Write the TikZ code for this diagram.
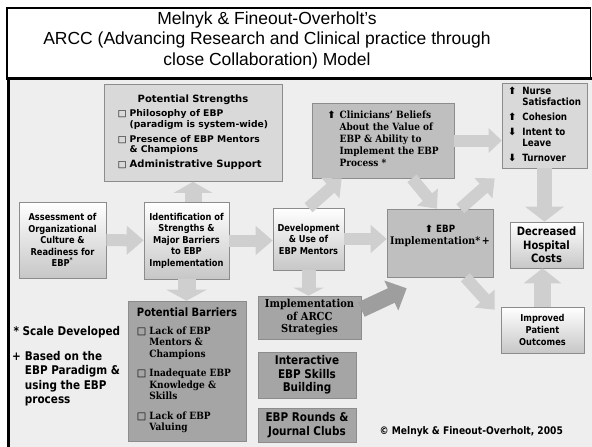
\documentclass[tikz,border=0pt]{standalone}
\usepackage{fontspec}
\usetikzlibrary{arrows.meta,calc}
\setmainfont{Liberation Sans}
\newfontfamily\tahoma{DejaVu Sans}[FakeStretch=0.87]
\newfontfamily\verdana{DejaVu Sans}
\newfontfamily\georgia{DejaVu Serif}[FakeStretch=0.9]
\newfontfamily\signs{DejaVu Sans}
\definecolor{panel}{HTML}{EEEEEE}
\definecolor{lightbox}{HTML}{D9D9D9}
\definecolor{midbox}{HTML}{BFBFBF}
\definecolor{darkbox}{HTML}{A5A5A5}
\definecolor{arrowfill}{HTML}{CFCFCF}
\definecolor{arrowdark}{HTML}{9E9E9E}
\definecolor{edge}{HTML}{8C8C8C}
\newcommand{\upmark}{{\signs\bfseries ⬆}}
\newcommand{\downmark}{{\signs\bfseries ⬇}}
\newcommand{\tickbox}{{\signs\mdseries □}}

\begin{document}
\begin{tikzpicture}[x=1pt, y=-1pt,
    box/.style={draw=edge, line width=0.6pt, align=center, inner sep=2pt},
    shaded/.style={box, top color=white, bottom color=black!22},
    fat/.style n args={3}{draw=arrowfill, line width=#1, -{Triangle[width=#2,length=#3]}},
    every node/.style={font=\tahoma\bfseries\fontsize{9.5}{11.5}\selectfont}]
    \useasboundingbox (0,0) rectangle (592,447);
    % frame and title
    \fill[panel] (8,78) rectangle (592,447);
    \draw[line width=1.2pt] (7,8) rectangle (590.5,78);
    \draw[line width=3pt] (6,78) -- (592,78);
    \draw[line width=2.5pt] (8.5,78) -- (8.5,447);
    \node[font=\rmfamily\fontsize{17.5}{20.5}\selectfont, align=center] (title) at (267,40)
        {Melnyk \& Fineout-Overholt’s\\ARCC (Advancing Research and Clinical practice through\\close Collaboration) Model};

    % boxes
    \node[box, fill=lightbox, minimum width=178pt, minimum height=97pt,
          font=\verdana\bfseries\fontsize{9.2}{10.8}\selectfont] (strengths) at (193,133)
        {\begin{tabular}{@{}l@{\hspace{3pt}}l@{}}
         \multicolumn{2}{@{}c@{}}{\fontsize{10}{12}\selectfont Potential Strengths}\\[3pt]
         \tickbox & Philosophy of EBP\\
                  & (paradigm is system-wide)\\[4pt]
         \tickbox & Presence of EBP Mentors\\
                  & \& Champions\\[4pt]
         \tickbox & \fontsize{10}{12}\selectfont Administrative Support
         \end{tabular}};
    \node[shaded, minimum width=87pt, minimum height=76pt] (assess) at (62.5,240)
        {Assessment of\\Organizational\\Culture \&\\Readiness for\\EBP\textsuperscript{*}};
    \node[shaded, minimum width=85pt, minimum height=77pt] (ident) at (186.5,240.5)
        {Identification of\\Strengths \&\\Major Barriers\\to EBP\\Implementation};
    \node[box, fill=darkbox, minimum width=118pt, minimum height=140pt,
          font=\georgia\bfseries\fontsize{10}{11.5}\selectfont] (barriers) at (187,371)
        {\begin{tabular}{@{}l@{\hspace{3pt}}l@{}}
         \multicolumn{2}{@{}c@{}}{\tahoma\fontsize{11.5}{13}\selectfont Potential Barriers}\\[6pt]
         \tickbox & Lack of EBP\\
                  & Mentors \&\\
                  & Champions\\[8pt]
         \tickbox & Inadequate EBP\\
                  & Knowledge \&\\
                  & Skills\\[8pt]
         \tickbox & Lack of EBP\\
                  & Valuing
         \end{tabular}};
    \node[shaded, minimum width=71pt, minimum height=62pt] (dev) at (308.5,239)
        {Development\\\& Use of\\EBP Mentors};
    \node[box, fill=midbox, minimum width=142pt, minimum height=75pt,
          font=\georgia\bfseries\fontsize{10}{12}\selectfont] (clin) at (383,140.5)
        {\begin{tabular}{@{}l@{\hspace{4pt}}l@{}}
         \upmark & Clinicians’ Beliefs\\
                 & About the Value of\\
                 & EBP \& Ability to\\
                 & Implement the EBP\\
                 & Process *
         \end{tabular}};
    \node[box, fill=midbox, minimum width=106pt, minimum height=68pt,
          font=\georgia\bfseries\fontsize{10.5}{12}\selectfont] (ebp) at (440,243)
        {{\tahoma\fontsize{10}{12}\selectfont\upmark\ EBP}\\Implementation*\,+\\[4pt]\mbox{}};
    \node[box, fill=lightbox, minimum width=85pt, minimum height=85pt,
          font=\tahoma\bfseries\fontsize{10}{11}\selectfont] (nurse) at (544.5,125.5)
        {\begin{tabular}{@{}l@{\hspace{6pt}}l@{}}
         \upmark & Nurse\\
                 & Satisfaction\\[4pt]
         \upmark & Cohesion\\[4pt]
         \downmark & Intent to\\
                   & Leave\\[4pt]
         \downmark & Turnover
         \end{tabular}};
    \node[shaded, minimum width=73pt, minimum height=46pt,
          font=\tahoma\bfseries\fontsize{11.5}{13.5}\selectfont] (cost) at (546.5,245)
        {Decreased\\Hospital\\Costs};
    \node[shaded, minimum width=83pt, minimum height=46pt,
          font=\tahoma\bfseries\fontsize{9.5}{12}\selectfont] (outcome) at (542.5,330)
        {Improved\\Patient\\Outcomes};
    \node[box, fill=darkbox, minimum width=103pt, minimum height=43pt,
          font=\georgia\bfseries\fontsize{11}{12.5}\selectfont] (arcc) at (309.5,317.5)
        {Implementation\\of ARCC\\Strategies};
    \node[box, fill=darkbox, minimum width=98pt, minimum height=46pt,
          font=\tahoma\bfseries\fontsize{12}{13.3}\selectfont] (skills) at (307,375)
        {Interactive\\EBP Skills\\Building};
    \node[box, fill=darkbox, minimum width=98pt, minimum height=34pt,
          font=\tahoma\bfseries\fontsize{12}{13.5}\selectfont] (rounds) at (307,425)
        {EBP Rounds \&\\Journal Clubs};

    % notes
    \node[anchor=west, font=\tahoma\bfseries\fontsize{12}{14.4}\selectfont] (scale) at (10,332)
        {* Scale Developed};
    \node[anchor=north west, inner sep=0pt, font=\tahoma\bfseries\fontsize{12}{14.4}\selectfont] (basis) at (12,350)
        {\begin{tabular}{@{}l@{\hspace{4pt}}l@{}}
         + & Based on the\\
           & EBP Paradigm \&\\
           & using the EBP\\
           & process
         \end{tabular}};
    \node[anchor=west, font=\tahoma\bfseries\fontsize{10.5}{12}\selectfont] (copy) at (376,432)
        {© Melnyk \& Fineout-Overholt, 2005};

    % block arrows
    \draw[fat={12pt}{28pt}{17pt}] (assess) -- (ident);
    \draw[fat={12pt}{28pt}{17pt}] (ident.east) -- (ident.east -| dev.west);
    \draw[fat={12pt}{27pt}{16pt}] (dev.east) -- (dev.east -| ebp.west);
    \draw[fat={17pt}{38pt}{11pt}] (strengths.south |- ident.north) -- (strengths.south);
    \draw[fat={18pt}{40pt}{11pt}] (ident.south) -- (ident.south |- barriers.north);
    \draw[fat={14pt}{30pt}{8pt}] (dev.south) -- (dev.south |- arcc.north);
    \draw[fat={12pt}{24pt}{13pt}] (clin.east) -- (clin.east -| nurse.west);
    \draw[fat={15pt}{38pt}{15pt}] (nurse.south) -- (nurse.south |- cost.north);
    \draw[fat={17pt}{37pt}{15pt}] (outcome.north) -- (outcome.north |- cost.south);
    \draw[fat={12pt}{26pt}{15pt}] (dev.north) -- ($(clin.south west)+(30,0)$);
    \draw[fat={12pt}{26pt}{15pt}] ($(clin.south)+(29,0)$) -- ($(ebp.north)+(-3,0)$);
    \draw[fat={12pt}{26pt}{15pt}] ($(ebp.north east)+(-33,0)$) -- ($(nurse.south west)+(-7,10)$);
    \draw[fat={12pt}{26pt}{15pt}] ($(ebp.south east)+(-28,0)$) -- ($(outcome.north west)+(-6,3)$);
    \draw[fat={16pt}{32pt}{17pt}, draw=arrowdark] ($(arcc.east)+(0,-8)$) -- ($(ebp.south west)+(20,11)$);
\end{tikzpicture}
\end{document}
